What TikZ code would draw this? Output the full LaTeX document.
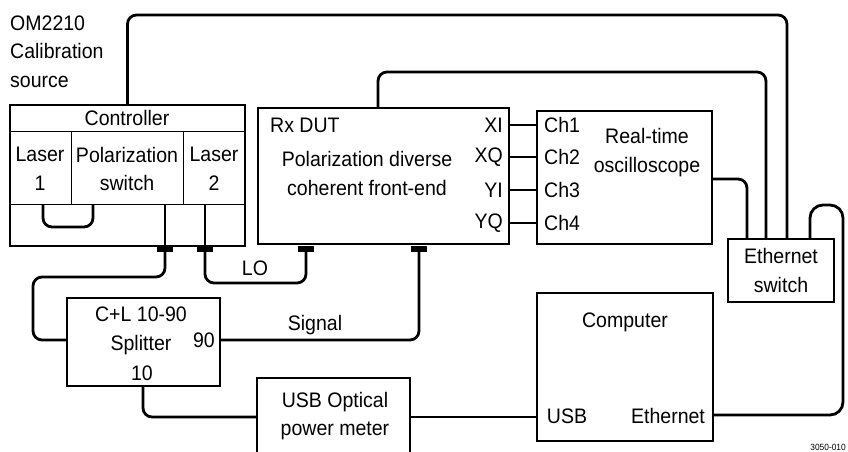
\documentclass[tikz,border=0pt]{standalone}
\usepackage{fontspec}
\setmainfont[FakeStretch=0.93]{Liberation Sans}

\begin{document}
\begin{tikzpicture}[x=1pt,y=-1pt,
   every node/.style={inner sep=0pt,font=\fontsize{21}{28.5}\selectfont},
   box/.style={draw,line width=1.6pt},
   cable/.style={line width=2.8pt,rounded corners=9pt},
   plug/.style={fill=black,minimum width=16pt,minimum height=6pt}]
   \useasboundingbox (0,0) rectangle (848,451);
   % boxes
   \node[box,minimum width=235pt,minimum height=141pt] (ctrl) at (127.5,175.5) {};
   \node[box,minimum width=251pt,minimum height=136pt] (dut) at (383.5,176) {};
   \node[box,minimum width=175pt,minimum height=133pt] (scope) at (624.5,177.5) {};
   \node[box,minimum width=106pt,minimum height=63pt] (eth) at (781,270.5) {};
   \node[box,minimum width=153pt,minimum height=88pt] (split) at (143.5,342) {};
   \node[box,minimum width=153pt,minimum height=80pt] (pm) at (333.5,418) {};
   \node[box,minimum width=176pt,minimum height=148pt] (comp) at (625,367) {};
   % controller cells
   \draw[line width=1pt] (10,131) -- (245,131);
   \draw[line width=1pt] (10,204) -- (245,204);
   \draw[line width=1pt] (71,131) -- (71,204);
   \draw[line width=1pt] (183,131) -- (183,204);
   % plugs
   \node[plug] (p1) at (165,249) {};
   \node[plug] (p2) at (205,249) {};
   \node[plug] (p3) at (306,249) {};
   \node[plug] (p4) at (419,249) {};
   % texts
   \node[align=left,anchor=west] (src) at (10,51.5) {OM2210\\Calibration\\source};
   \node (ctrltxt) at (127,118) {Controller};
   \node[align=center] (l1) at (40,169) {Laser\\1};
   \node[align=center] (pol) at (127,169) {Polarization\\switch};
   \node[align=center] (l2) at (214,169) {Laser\\2};
   \node[anchor=west] (rx) at (270,125) {Rx DUT};
   \node[align=center] (fe) at (367,173.5) {Polarization diverse\\coherent front-end};
   \node[align=center] (rt) at (647,152.5) {Real-time\\oscilloscope};
   \node[align=center] (ethtxt) at (eth) {Ethernet\\switch};
   \node[align=center] (c+l) at (141,331) {C+L 10-90\\Splitter};
   \node (s10) at (142,373) {10};
   \node (s90) at (204,340) {90};
   \node[align=center] (pmtxt) at (335,416) {USB Optical\\power meter};
   \node (comptxt) at (625,322) {Computer};
   \node (usb) at (567,416) {USB};
   \node (ethport) at (668,416) {Ethernet};
   \node (lo) at (255,268) {LO};
   \node (sig) at (315,325) {Signal};
   \node[font=\fontsize{9}{10}\selectfont,anchor=east] (fig) at (846,447) {3050-010};
   \foreach \a/\b/\y in {XI/Ch1/125,XQ/Ch2/157,YI/Ch3/190,YQ/Ch4/223}{
      \node[anchor=east] (\a) at (503,\y) {\a};
      \node[anchor=west] (\b) at (544,\y) {\b};
      \draw[cable] (dut.east |- 0,\y) -- (scope.west |- 0,\y);
   }
   % cables
   \draw[cable] (ctrl.north) |- ([xshift=6pt]eth.north |- 0,15) -- ([xshift=6pt]eth.north);
   \draw[cable] (dut.north -| 378,0) |- ([xshift=-15pt]eth.north |- 0,72) -- ([xshift=-15pt]eth.north);
   \draw[cable] (scope.east |- 0,179) -| ([xshift=-34pt]eth.north);
   \coordinate (turn) at (843,205);
   \draw[cable,rounded corners=13pt] (comp.east |- 0,415) -| (turn) -| ([xshift=29pt]eth.north);
   \draw[cable] (pm.east |- 0,417) -- (comp.west |- 0,417);
   \draw[cable] (split.south -| 143,0) |- (pm.west |- 0,417);
   \draw[cable] (split.east |- 0,340) -| (p4.south);
   \draw[cable] (p2.south) |- (p3.south |- 0,283) -- (p3.south);
   \draw[cable] (p1.south) |- (33,277) |- (split.west |- 0,340);
   \draw[cable] (165,204) -- (p1.north);
   \draw[cable] (205,204) -- (p2.north);
   \draw[cable] (43,204) |- (68,227) -| (93,204);
\end{tikzpicture}
\end{document}
